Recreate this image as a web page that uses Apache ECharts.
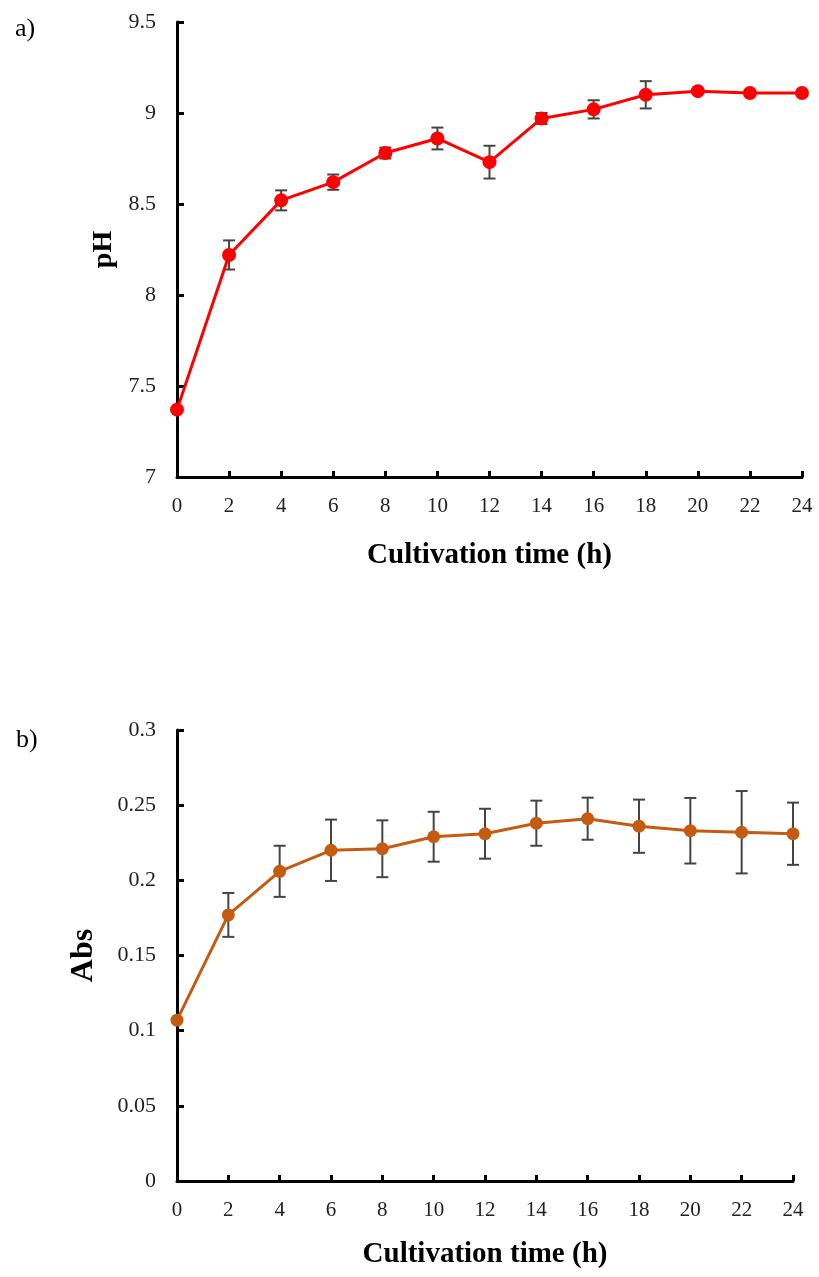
<!DOCTYPE html>
<html><head><meta charset="utf-8">
<script src="https://cdn.jsdelivr.net/npm/echarts@6/dist/echarts.min.js"></script>
<style>html,body{margin:0;padding:0;background:#fff}#c{width:819px;height:1277px}</style>
</head><body><div id="c"></div>
<script>
const times = [0, 2, 4, 6, 8, 10, 12, 14, 16, 18, 20, 22, 24];
const phMean = [7.37, 8.22, 8.52, 8.62, 8.78, 8.86, 8.73, 8.97, 9.02, 9.10, 9.12, 9.11, 9.11];
const phErr  = [0.0, 0.08, 0.055, 0.042, 0.03, 0.06, 0.09, 0.03, 0.05, 0.075, 0.0, 0.0, 0.0];
const absMean = [0.107, 0.177, 0.206, 0.220, 0.221, 0.229, 0.231, 0.238, 0.241, 0.236, 0.233, 0.232, 0.231];
const absErr  = [0.0, 0.0146, 0.017, 0.0204, 0.0189, 0.0166, 0.0166, 0.015, 0.014, 0.0177, 0.0218, 0.0274, 0.0207];
const panelLabels = ['a)', 'b)'];
const xTitle = 'Cultivation time (h)';
const yTitles = ['pH', 'Abs'];

const font = '"Liberation Serif","Times New Roman",serif';

function errSeries(idx, means, errs) {
  const data = times.map((t, i) => [t, means[i] - errs[i], means[i] + errs[i]]);
  return {
    type: 'custom', xAxisIndex: idx, yAxisIndex: idx, z: 1, silent: true,
    data: data,
    renderItem: function (params, api) {
      const x = api.value(0);
      const lo = api.coord([x, api.value(1)]);
      const hi = api.coord([x, api.value(2)]);
      if (Math.abs(hi[1] - lo[1]) < 1) return null;
      const w = 6;
      const st = { stroke: '#444', lineWidth: 2, fill: null };
      return { type: 'group', children: [
        { type: 'line', shape: { x1: lo[0], y1: lo[1], x2: hi[0], y2: hi[1] }, style: st },
        { type: 'line', shape: { x1: lo[0] - w, y1: lo[1], x2: lo[0] + w, y2: lo[1] }, style: st },
        { type: 'line', shape: { x1: hi[0] - w, y1: hi[1], x2: hi[0] + w, y2: hi[1] }, style: st }
      ]};
    }
  };
}

function xAxis(idx) {
  return {
    type: 'value', gridIndex: idx, min: 0, max: 24, interval: 2,
    name: xTitle, nameLocation: 'middle', nameGap: idx === 0 ? 64 : 59,
    nameTextStyle: { fontFamily: font, fontSize: 29, fontWeight: 'bold', color: '#000' },
    axisLine: { lineStyle: { color: '#000', width: 3 } },
    axisTick: { inside: true, length: 6, lineStyle: { color: '#000', width: 3 } },
    axisLabel: { fontFamily: font, fontSize: 21, color: '#222', margin: 19 },
    splitLine: { show: false }
  };
}
function yAxis(idx, min, max, interval, gap, fs) {
  return {
    type: 'value', gridIndex: idx, min: min, max: max, interval: interval,
    name: yTitles[idx], nameLocation: 'middle', nameGap: gap,
    nameTextStyle: { fontFamily: font, fontSize: fs, fontWeight: 'bold', color: '#000' },
    axisLine: { show: true, lineStyle: { color: '#000', width: 3 } },
    axisTick: { show: true, inside: true, length: 7, lineStyle: { color: '#000', width: 3 } },
    axisLabel: { fontFamily: font, fontSize: 22, color: '#222', margin: 21 },
    splitLine: { show: false }
  };
}

const chart = echarts.init(document.getElementById('c'), null, { renderer: 'canvas' });
chart.setOption({
  backgroundColor: '#fff',
  animation: false,
  title: [
    { text: panelLabels[0], left: 10, top: 11, textStyle: { fontFamily: font, fontSize: 26, fontWeight: 'normal', color: '#000' } },
    { text: panelLabels[1], left: 11, top: 722, textStyle: { fontFamily: font, fontSize: 26, fontWeight: 'normal', color: '#000' } }
  ],
  grid: [
    { left: 177, top: 22, width: 625, height: 455 },
    { left: 177, top: 730, width: 616, height: 451 }
  ],
  xAxis: [xAxis(0), xAxis(1)],
  yAxis: [yAxis(0, 7, 9.5, 0.5, 57, 28), yAxis(1, 0, 0.3, 0.05, 77, 32)],
  series: [
    errSeries(0, phMean, phErr),
    { type: 'line', xAxisIndex: 0, yAxisIndex: 0, z: 2, data: times.map((t, i) => [t, phMean[i]]),
      symbol: 'circle', symbolSize: 14, lineStyle: { color: '#ff0000', width: 3 }, itemStyle: { color: '#ff0000' } },
    errSeries(1, absMean, absErr),
    { type: 'line', xAxisIndex: 1, yAxisIndex: 1, z: 2, data: times.map((t, i) => [t, absMean[i]]),
      symbol: 'circle', symbolSize: 13, lineStyle: { color: '#c55a11', width: 3 }, itemStyle: { color: '#c55a11' } }
  ]
});
</script></body></html>
